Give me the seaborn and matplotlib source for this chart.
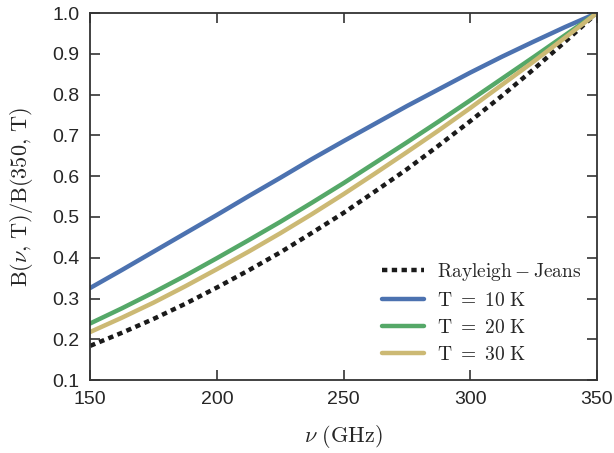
import numpy as np
import pandas as pd
import seaborn as sns
import matplotlib
matplotlib.use("Agg")
import matplotlib.pyplot as plt

freq = [150, 162.5, 175, 187.5, 200, 212.5, 225, 237.5, 250, 262.5, 275, 287.5,
        300, 312.5, 325, 337.5, 350]
rj = [0.184, 0.216, 0.250, 0.287, 0.327, 0.369, 0.413, 0.461, 0.510, 0.563, 0.617, 0.675,
      0.735, 0.797, 0.862, 0.930, 1.000]
t10 = [0.326, 0.370, 0.415, 0.460, 0.505, 0.551, 0.596, 0.642, 0.686, 0.729, 0.772, 0.813,
       0.854, 0.893, 0.930, 0.966, 1.000]
t20 = [0.239, 0.276, 0.315, 0.356, 0.399, 0.443, 0.488, 0.535, 0.583, 0.633, 0.683, 0.734,
       0.786, 0.839, 0.892, 0.946, 1.000]
t30 = [0.218, 0.253, 0.290, 0.330, 0.372, 0.415, 0.460, 0.507, 0.556, 0.607, 0.659, 0.712,
       0.767, 0.824, 0.881, 0.940, 1.000]
labels = [r"$\mathrm{Rayleigh-Jeans}$", r"$\mathrm{T\ =\ 10\ K}$",
          r"$\mathrm{T\ =\ 20\ K}$", r"$\mathrm{T\ =\ 30\ K}$"]
xticks = [150, 200, 250, 300, 350]
yticks = [0.1, 0.2, 0.3, 0.4, 0.5, 0.6, 0.7, 0.8, 0.9, 1.0]

sns.set_theme(style="ticks")
plt.rcParams["font.family"] = ["Liberation Sans", "DejaVu Sans"]
plt.rcParams["mathtext.fontset"] = "cm"

deep = sns.color_palette("deep")
colors = ["#1a1a1a", deep[0], deep[2], "#CCB974"]

df = pd.DataFrame({"freq": freq * 4,
                   "val": rj + t10 + t20 + t30,
                   "series": sum([[l] * len(freq) for l in labels], [])})

fig, ax = plt.subplots(figsize=(6.14, 4.53), dpi=100)
fig.subplots_adjust(left=0.147, right=0.972, top=0.971, bottom=0.161)

sns.lineplot(data=df, x="freq", y="val", hue="series", palette=dict(zip(labels, colors)),
             style="series", dashes={labels[0]: (1.2, 1.0), labels[1]: "", labels[2]: "", labels[3]: ""},
             linewidth=3.2, ax=ax)

ax.set_xlim(150, 350)
ax.set_ylim(0.1, 1.0)
ax.set_xticks(xticks)
ax.set_yticks(yticks)
ax.tick_params(direction="in", top=True, right=True, labelsize=14, length=7, width=1.2,
               colors="#333333", labelcolor="#262626", pad=8)
for s in ax.spines.values():
    s.set_linewidth(1.3)
    s.set_color("#333333")
ax.set_xlabel(r"$\nu\ \mathrm{(GHz)}$", fontsize=16, labelpad=11)
ax.set_ylabel(r"$\mathrm{B(\nu,\,T)/B(350,\,T)}$", fontsize=16, labelpad=12)

leg = ax.legend(loc="lower right", frameon=False, fontsize=14, handlelength=2.15,
                handletextpad=0.65, labelspacing=0.45,
                bbox_to_anchor=(0.996, 0.008), borderaxespad=0.3)
fig.savefig("out.png", dpi=100)
